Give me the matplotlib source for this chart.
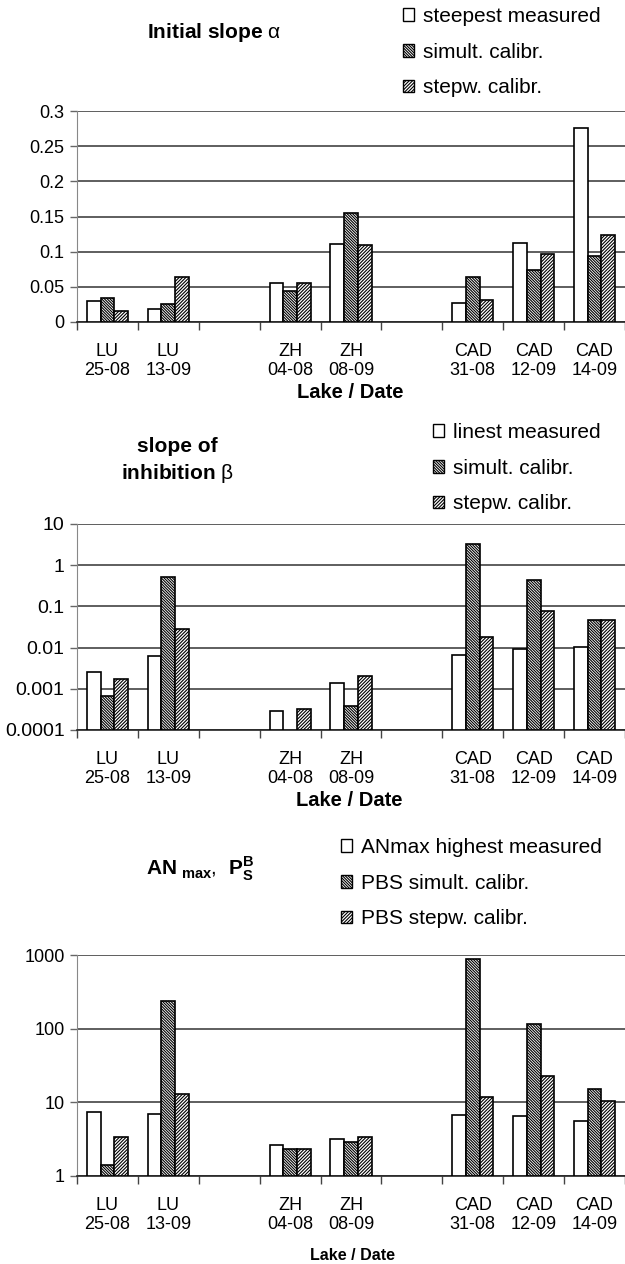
import numpy as np
import matplotlib
matplotlib.use('Agg')
import matplotlib.pyplot as plt
from matplotlib.patches import Patch

plt.rcParams['font.family'] = ['Liberation Sans', 'DejaVu Sans']
plt.rcParams['mathtext.fontset'] = 'custom'
plt.rcParams['mathtext.rm'] = 'Liberation Sans'
plt.rcParams['mathtext.bf'] = 'Liberation Sans:bold'
plt.rcParams['hatch.linewidth'] = 0.8

nan = np.nan
categories = ['LU\n25-08', 'LU\n13-09', '', 'ZH\n04-08', 'ZH\n08-09', '',
              'CAD\n31-08', 'CAD\n12-09', 'CAD\n14-09']

# initial slope alpha
alpha_measured = [0.030, 0.019, nan, 0.055, 0.111, nan, 0.027, 0.112, 0.276]
alpha_simult = [0.034, 0.025, nan, 0.044, 0.155, nan, 0.064, 0.074, 0.094]
alpha_stepw = [0.016, 0.064, nan, 0.055, 0.110, nan, 0.031, 0.097, 0.123]

# slope of inhibition beta
beta_measured = [0.00255, 0.0061, nan, 0.00029, 0.0014, nan, 0.0068, 0.0090, 0.0105]
beta_simult = [0.00066, 0.51, nan, nan, 0.00039, nan, 3.2, 0.44, 0.047]
beta_stepw = [0.0017, 0.0275, nan, 0.00032, 0.0021, nan, 0.018, 0.078, 0.048]

# ANmax / PBS
pbs_measured = [7.5, 7.0, nan, 2.6, 3.2, nan, 6.8, 6.5, 5.6]
pbs_simult = [1.42, 234, nan, 2.3, 2.85, nan, 880, 115, 15.0]
pbs_stepw = [3.4, 13.0, nan, 2.35, 3.4, nan, 12.0, 23.0, 10.3]

W, H = 625, 1264
fig = plt.figure(figsize=(W / 100, H / 100), dpi=100)


def fx(px):
    return px / W


def fy(px):
    return 1 - px / H


ax_left, ax_right = 77, 625
bar_w = 0.225
x = np.arange(len(categories))
styles = [dict(facecolor='white', hatch=None),
          dict(facecolor='white', hatch='\\' * 12),
          dict(facecolor='white', hatch='/' * 10)]


def panel(top, bottom, series, log, ylim, yticks, yticklabels, ysize=13):
    ax = fig.add_axes([fx(ax_left), fy(bottom), fx(ax_right - ax_left), (bottom - top) / H])
    base = ylim[0] if log else 0
    for i, (vals, st) in enumerate(zip(series, styles)):
        vals = np.array(vals, dtype=float)
        ax.bar(x + (i - 1) * bar_w, vals - base, bar_w, bottom=base,
               edgecolor='black', linewidth=1.2, zorder=3, **st)
    if log:
        ax.set_yscale('log')
        ax.minorticks_off()
    ax.set_ylim(*ylim)
    ax.set_xlim(-0.5, 8.5)
    ax.set_yticks(yticks)
    ax.set_yticklabels(yticklabels)
    ax.set_xticks(np.arange(-0.5, 9, 1))
    ax.set_xticklabels([])
    ax.set_xticks(x, minor=True)
    ax.set_xticklabels(categories, minor=True)
    ax.tick_params(axis='x', which='major', length=6, width=1, color='#444', direction='out')
    ax.tick_params(axis='x', which='minor', length=0, pad=15, labelsize=13)
    ax.tick_params(axis='y', length=5, width=1, color='#666', labelsize=ysize, pad=4)
    ax.grid(axis='y', color='#333', linewidth=1.1, zorder=0)
    for s in ['top', 'right']:
        ax.spines[s].set_visible(False)
    ax.spines['left'].set_color('#888')
    ax.spines['bottom'].set_color('#222')
    ax.spines['bottom'].set_linewidth(1.2)
    return ax


def add_legend(labels, left, top):
    handles = [Patch(edgecolor='black', linewidth=1.0, **st) for st in styles]
    fig.legend(handles, labels, loc='upper left', bbox_to_anchor=(fx(left), fy(top)),
               frameon=False, fontsize=15, handlelength=0.55, handleheight=0.55,
               handletextpad=0.4, labelspacing=0.8, borderpad=0, borderaxespad=0)


# panel 1: linear scale
panel(111, 322, [alpha_measured, alpha_simult, alpha_stepw], False, (0, 0.3),
      [0, 0.05, 0.1, 0.15, 0.2, 0.25, 0.3], ['0', '0.05', '0.1', '0.15', '0.2', '0.25', '0.3'])
fig.text(fx(214), fy(32), r'Initial slope $\mathrm{\alpha}$', ha='center', va='center',
         fontsize=15, fontweight='bold')
add_legend(['steepest measured', 'simult. calibr.', 'stepw. calibr.'], 403, 7)
fig.text(fx(350), fy(392), 'Lake / Date', ha='center', va='center', fontsize=14.5, fontweight='bold')

# panel 2: log scale
panel(524, 730, [beta_measured, beta_simult, beta_stepw], True, (1e-4, 10),
      [1e-4, 1e-3, 1e-2, 1e-1, 1, 10], ['0.0001', '0.001', '0.01', '0.1', '1', '10'], ysize=14)
fig.text(fx(177), fy(461), 'slope of\ninhibition ' + r'$\mathrm{\beta}$', ha='center', va='center',
         fontsize=15, fontweight='bold', linespacing=1.3)
add_legend(['linest measured', 'simult. calibr.', 'stepw. calibr.'], 433, 423)
fig.text(fx(349), fy(800), 'Lake / Date', ha='center', va='center', fontsize=14.5, fontweight='bold')

# panel 3: log scale
panel(955, 1176, [pbs_measured, pbs_simult, pbs_stepw], True, (1, 1000),
      [1, 10, 100, 1000], ['1', '10', '100', '1000'])
fig.text(fx(200), fy(869), r'$\mathbf{AN}_{\mathbf{\ max}}$,  $\mathbf{P}^{\mathbf{B}}_{\mathbf{S}}$',
         ha='center', va='center', fontsize=15)
add_legend(['ANmax highest measured', 'PBS simult. calibr.', 'PBS stepw. calibr.'], 341, 838)
fig.text(fx(352), fy(1255), 'Lake / Date', ha='center', va='center', fontsize=11.5, fontweight='bold')

fig.savefig('out.png', dpi=100)
